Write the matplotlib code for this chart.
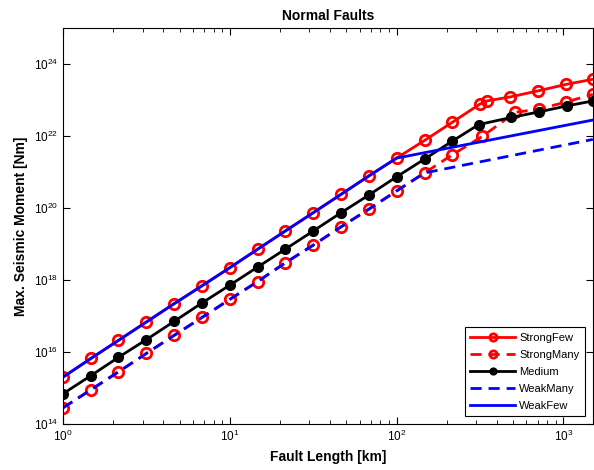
import matplotlib
matplotlib.use("Agg")
import matplotlib.pyplot as plt
from matplotlib.ticker import FixedLocator, LogLocator, NullFormatter, NullLocator

plt.rcParams['font.family'] = ['Liberation Sans', 'DejaVu Sans']
plt.rcParams['mathtext.fontset'] = 'custom'
plt.rcParams['mathtext.rm'] = 'Liberation Sans'

# fault lengths [km]
x_base = [1.0, 1.47, 2.15, 3.16, 4.64, 6.81, 10.0, 14.7, 21.5, 31.6, 46.4, 68.1, 100.0]

strongfew_x = x_base + [147, 215, 316, 347, 480, 700, 1040, 1500]
strongfew_y = [2.0e15, 6.6e15, 2.1e16, 6.8e16, 2.2e17, 6.9e17, 2.2e18, 7.2e18, 2.3e19,
               7.4e19, 2.4e20, 7.8e20, 2.45e21,
               7.6e21, 2.4e22, 7.8e22, 9.5e22, 1.23e23, 1.8e23, 2.75e23, 3.8e23]

strongmany_x = x_base + [147, 215, 326, 516, 711, 1038, 1500]
strongmany_y = [2.8e14, 8.9e14, 2.8e15, 9.1e15, 2.9e16, 9.1e16, 2.9e17, 9.1e17, 3.0e18,
                9.3e18, 3.0e19, 9.3e19, 3.0e20,
                9.5e20, 3.0e21, 9.8e21, 4.6e22, 5.6e22, 8.9e22, 1.45e23]

medium_x = x_base + [147, 215, 311, 486, 711, 1046, 1500]
medium_y = [6.9e14, 2.2e15, 7.1e15, 2.2e16, 7.1e16, 2.3e17, 7.2e17, 2.3e18, 7.2e18,
            2.3e19, 7.4e19, 2.3e20, 7.4e20,
            2.3e21, 7.2e21, 2.1e22, 3.3e22, 4.7e22, 6.9e22, 9.5e22]

weakmany_x = x_base + [147, 1500]
weakmany_y = strongmany_y[:14] + [8.1e21]

weakfew_x = x_base + [1500]
weakfew_y = strongfew_y[:13] + [2.8e22]

fig = plt.figure(figsize=(5.94, 4.7), dpi=100)
ax = fig.add_axes([0.106, 0.098, 0.892, 0.842])

lw = 2.0
ax.plot(strongfew_x, strongfew_y, '-', color='red', lw=lw, marker='o', ms=7.5,
        mfc='none', mec='red', mew=2.0, label='StrongFew')
ax.plot(strongmany_x, strongmany_y, '--', color='red', lw=lw, marker='o', ms=7.5,
        mfc='none', mec='red', mew=2.0, dashes=(4, 2.5), label='StrongMany')
ax.plot(medium_x, medium_y, '-', color='black', lw=lw, marker='o', ms=7,
        mfc='black', mec='black', label='Medium')
ax.plot(weakmany_x, weakmany_y, '--', color='blue', lw=lw, dashes=(4, 2.5), label='WeakMany')
ax.plot(weakfew_x, weakfew_y, '-', color='blue', lw=lw, label='WeakFew')

ax.set_xscale('log')
ax.set_yscale('log')
ax.set_xlim(1, 1500)
ax.set_ylim(1e14, 1e25)
ax.yaxis.set_major_locator(FixedLocator([1e14, 1e16, 1e18, 1e20, 1e22, 1e24]))
ax.yaxis.set_minor_locator(NullLocator())
ax.xaxis.set_minor_locator(LogLocator(base=10, subs=range(2, 10)))
ax.xaxis.set_minor_formatter(NullFormatter())

ax.tick_params(which='both', direction='in', top=True, right=True, labelsize=8.5)
ax.tick_params(which='major', length=5, width=0.8)
ax.tick_params(which='minor', length=3, width=0.6)

ax.set_title('Normal Faults', fontsize=10, fontweight='bold')
ax.set_xlabel('Fault Length [km]', fontsize=10, fontweight='bold')
ax.set_ylabel('Max. Seismic Moment [Nm]', fontsize=10, fontweight='bold')

leg = ax.legend(loc='lower right', fontsize=8, handlelength=4.0, fancybox=False,
                framealpha=1, edgecolor='black', borderaxespad=0.7, labelspacing=0.62,
                markerscale=0.7, handletextpad=0.4, borderpad=0.5)
leg.get_frame().set_linewidth(0.8)

fig.savefig('out.png', dpi=100)
